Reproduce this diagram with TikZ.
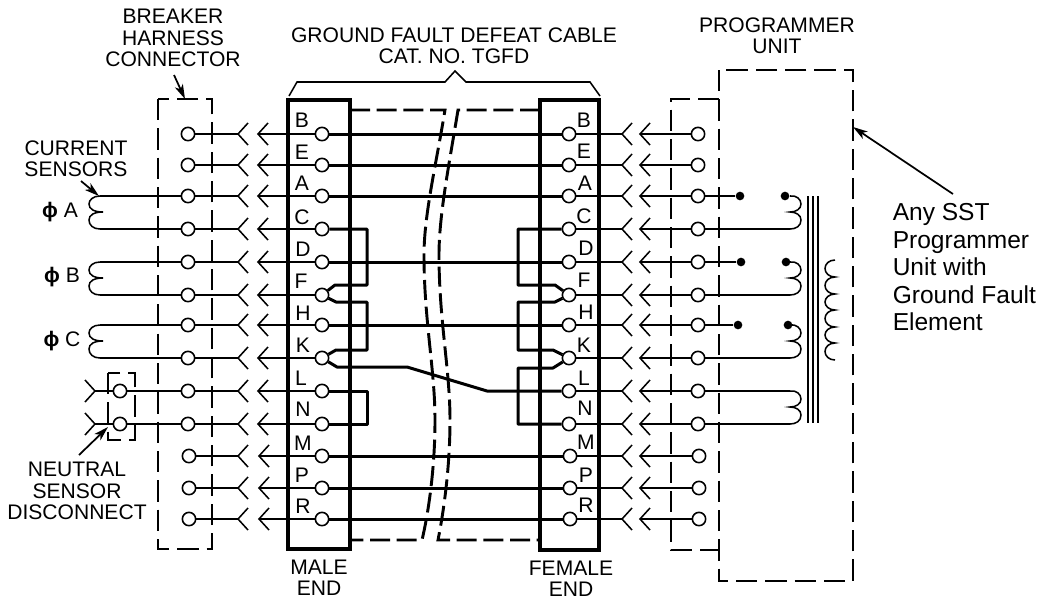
\documentclass[tikz,border=0pt]{standalone}
\usepackage{fontspec}
\setmainfont{Liberation Sans}
\usetikzlibrary{arrows.meta}

\tikzset{every picture/.style={line width=1.15pt}}
\tikzset{term/.style={circle,draw,fill=white,inner sep=0pt,minimum size=10pt,line width=1.2pt}}
\tikzset{jack/.style={circle,fill=black,inner sep=0pt,minimum size=6.5pt}}
\tikzset{wire/.style={line width=2.25pt,line join=round}}
\tikzset{shell/.style={line width=2.7pt}}
\tikzset{cabledash/.style={line width=2.2pt,dash pattern=on 15pt off 5pt}}
\tikzset{boxdash/.style={line width=1.2pt,dash pattern=on 16pt off 6pt}}
\tikzset{txt/.style={font=\fontsize{15.8}{16}\selectfont,align=center,inner sep=0pt}}
\tikzset{bigtxt/.style={font=\fontsize{18.4}{20.6}\selectfont,align=left,inner sep=0pt}}
\tikzset{pointer/.style={-{Stealth[length=11pt,width=6.5pt,inset=3pt]},line width=1.3pt}}
\tikzset{chev/.pic={\draw (10,-11) -- (0,0) -- (10,11);}}
\tikzset{chevr/.pic={\draw (-10,-11) -- (0,0) -- (-10,11);}}
\tikzset{coilr/.pic={\draw [yscale=-1] (0,0) .. controls (6,-1) and (11,3) .. (11,8) .. controls (11,13) and (6,16) .. (0,16) .. controls (6,16) and (11,19) .. (11,24) .. controls (11,30) and (6,33) .. (0,33);}}
\tikzset{coill/.pic={\draw [yscale=-1] (0,0) .. controls (-7,0) and (-11,4) .. (-11,8) .. controls (-11,13) and (-6,16) .. (3,16) .. controls (-6,16) and (-11,19) .. (-11,24) .. controls (-11,29) and (-7,33) .. (0,33);}}

\begin{document}
\begin{tikzpicture}[x=0.75pt,y=0.75pt,yscale=-1,xscale=1]
	\useasboundingbox (0,0) rectangle (1049,601);

	%Shape: Dashed Cable
	\draw [cabledash] (350,110) -- (445,110) .. controls (436,165) and (424,215) .. (424,255) .. controls (424,320) and (435,370) .. (435,420) .. controls (435,470) and (428,515) .. (422,540) -- (350,540);
	\draw [cabledash] (540,110) -- (458,110) .. controls (449,165) and (439,215) .. (439,255) .. controls (439,320) and (450,370) .. (450,420) .. controls (450,470) and (443,515) .. (438,540) -- (540,540);
	%Shape: Brace
	\draw (289,96) -- (297,82) -- (445,82) -- (455,71) -- (466,82) -- (590,82) -- (600,96);
	%Shape: Connector Shells
	\draw [shell] (288,100) rectangle (350,549);
	\draw [shell] (540,100) rectangle (599,550);
	%Shape: Harness Boxes
	\draw [boxdash] (158,99) rectangle (212,549);
	\draw [boxdash] (719,99) -- (671,99) -- (671,550) -- (719,550);
	\draw [boxdash] (719,70) rectangle (853,581);
	\draw [boxdash] (108,373) rectangle (135,440);

	%Row B
	\node [term] (hB) at (188,134) {}; \node [term] (mB) at (322,134) {}; \node [term] (fB) at (569,134) {}; \node [term] (pB) at (698,134) {};
	\coordinate (cB) at (238,134); \coordinate (aB) at (258,134); \coordinate (eB) at (622,134); \coordinate (gB) at (640,134);
	\draw (hB) -- (cB) pic {chev}; \draw (mB) -- (aB) pic {chev}; \draw (fB) -- (eB) pic {chev}; \draw (pB) -- (gB) pic {chev};
	\draw [wire] (mB) -- (fB);
	%Row E
	\node [term] (hE) at (188,165) {}; \node [term] (mE) at (322,165) {}; \node [term] (fE) at (569,165) {}; \node [term] (pE) at (698,165) {};
	\coordinate (cE) at (238,165); \coordinate (aE) at (258,165); \coordinate (eE) at (622,165); \coordinate (gE) at (640,165);
	\draw (hE) -- (cE) pic {chev}; \draw (mE) -- (aE) pic {chev}; \draw (fE) -- (eE) pic {chev}; \draw (pE) -- (gE) pic {chev};
	\draw [wire] (mE) -- (fE);
	%Row A
	\node [term] (hA) at (188,196) {}; \node [term] (mA) at (322,196) {}; \node [term] (fA) at (569,196) {}; \node [term] (pA) at (698,196) {};
	\coordinate (cA) at (238,196); \coordinate (aA) at (258,196); \coordinate (eA) at (622,196); \coordinate (gA) at (640,196);
	\draw (hA) -- (cA) pic {chev}; \draw (mA) -- (aA) pic {chev}; \draw (fA) -- (eA) pic {chev}; \draw (pA) -- (gA) pic {chev};
	\draw [wire] (mA) -- (fA);
	%Row C
	\node [term] (hC) at (188,229) {}; \node [term] (mC) at (322,229) {}; \node [term] (fC) at (569,229) {}; \node [term] (pC) at (698,229) {};
	\coordinate (cC) at (238,229); \coordinate (aC) at (258,229); \coordinate (eC) at (622,229); \coordinate (gC) at (640,229);
	\draw (hC) -- (cC) pic {chev}; \draw (mC) -- (aC) pic {chev}; \draw (fC) -- (eC) pic {chev}; \draw (pC) -- (gC) pic {chev};
	%Row D
	\node [term] (hD) at (188,262) {}; \node [term] (mD) at (322,262) {}; \node [term] (fD) at (569,262) {}; \node [term] (pD) at (698,262) {};
	\coordinate (cD) at (238,262); \coordinate (aD) at (258,262); \coordinate (eD) at (622,262); \coordinate (gD) at (640,262);
	\draw (hD) -- (cD) pic {chev}; \draw (mD) -- (aD) pic {chev}; \draw (fD) -- (eD) pic {chev}; \draw (pD) -- (gD) pic {chev};
	\draw [wire] (mD) -- (fD);
	%Row F
	\node [term] (hF) at (188,295) {}; \node [term] (mF) at (322,295) {}; \node [term] (fF) at (569,295) {}; \node [term] (pF) at (698,295) {};
	\coordinate (cF) at (238,295); \coordinate (aF) at (258,295); \coordinate (eF) at (622,295); \coordinate (gF) at (640,295);
	\draw (hF) -- (cF) pic {chev}; \draw (mF) -- (aF) pic {chev}; \draw (fF) -- (eF) pic {chev}; \draw (pF) -- (gF) pic {chev};
	%Row H
	\node [term] (hH) at (188,325) {}; \node [term] (mH) at (322,325) {}; \node [term] (fH) at (569,325) {}; \node [term] (pH) at (698,325) {};
	\coordinate (cH) at (238,325); \coordinate (aH) at (258,325); \coordinate (eH) at (622,325); \coordinate (gH) at (640,325);
	\draw (hH) -- (cH) pic {chev}; \draw (mH) -- (aH) pic {chev}; \draw (fH) -- (eH) pic {chev}; \draw (pH) -- (gH) pic {chev};
	\draw [wire] (mH) -- (fH);
	%Row K
	\node [term] (hK) at (188,358) {}; \node [term] (mK) at (322,358) {}; \node [term] (fK) at (569,358) {}; \node [term] (pK) at (698,358) {};
	\coordinate (cK) at (238,358); \coordinate (aK) at (258,358); \coordinate (eK) at (622,358); \coordinate (gK) at (640,358);
	\draw (hK) -- (cK) pic {chev}; \draw (mK) -- (aK) pic {chev}; \draw (fK) -- (eK) pic {chev}; \draw (pK) -- (gK) pic {chev};
	%Row L
	\node [term] (hL) at (188,391) {}; \node [term] (mL) at (322,391) {}; \node [term] (fL) at (569,391) {}; \node [term] (pL) at (698,391) {};
	\coordinate (cL) at (238,391); \coordinate (aL) at (258,391); \coordinate (eL) at (622,391); \coordinate (gL) at (640,391);
	\draw (hL) -- (cL) pic {chev}; \draw (mL) -- (aL) pic {chev}; \draw (fL) -- (eL) pic {chev}; \draw (pL) -- (gL) pic {chev};
	%Row N
	\node [term] (hN) at (188,424) {}; \node [term] (mN) at (322,424) {}; \node [term] (fN) at (569,424) {}; \node [term] (pN) at (698,424) {};
	\coordinate (cN) at (238,424); \coordinate (aN) at (258,424); \coordinate (eN) at (622,424); \coordinate (gN) at (640,424);
	\draw (hN) -- (cN) pic {chev}; \draw (mN) -- (aN) pic {chev}; \draw (fN) -- (eN) pic {chev}; \draw (pN) -- (gN) pic {chev};
	%Row M
	\node [term] (hM) at (189,456) {}; \node [term] (mM) at (322,456) {}; \node [term] (fM) at (570,456) {}; \node [term] (pM) at (699,456) {};
	\coordinate (cM) at (238,456); \coordinate (aM) at (259,456); \coordinate (eM) at (622,456); \coordinate (gM) at (640,456);
	\draw (hM) -- (cM) pic {chev}; \draw (mM) -- (aM) pic {chev}; \draw (fM) -- (eM) pic {chev}; \draw (pM) -- (gM) pic {chev};
	\draw [wire] (mM) -- (fM);
	%Row P
	\node [term] (hP) at (189,488) {}; \node [term] (mP) at (322,488) {}; \node [term] (fP) at (570,488) {}; \node [term] (pP) at (699,488) {};
	\coordinate (cP) at (238,488); \coordinate (aP) at (259,488); \coordinate (eP) at (622,488); \coordinate (gP) at (640,488);
	\draw (hP) -- (cP) pic {chev}; \draw (mP) -- (aP) pic {chev}; \draw (fP) -- (eP) pic {chev}; \draw (pP) -- (gP) pic {chev};
	\draw [wire] (mP) -- (fP);
	%Row R
	\node [term] (hR) at (189,519) {}; \node [term] (mR) at (322,519) {}; \node [term] (fR) at (570,519) {}; \node [term] (pR) at (699,519) {};
	\coordinate (cR) at (238,519); \coordinate (aR) at (259,519); \coordinate (eR) at (622,519); \coordinate (gR) at (640,519);
	\draw (hR) -- (cR) pic {chev}; \draw (mR) -- (aR) pic {chev}; \draw (fR) -- (eR) pic {chev}; \draw (pR) -- (gR) pic {chev};
	\draw [wire] (mR) -- (fR);

	%Straight Lines: male end links
	\draw [wire] (mC) -- (367,229) -- (367,285) -- (335,285) -- (mF);
	\draw [wire] (mF) -- (336,302) -- (367,302) -- (367,350) -- (336,350) -- (mK);
	\draw [wire] (mK) -- (337,367) -- (407,367) -- (487,391) -- (fL);
	\draw [wire] (mL) -- (367,391) -- (367,424) -- (mN);
	%Straight Lines: female end links
	\draw [wire] (fC) -- (518,229) -- (518,285) -- (555,285) -- (fF);
	\draw [wire] (fF) -- (555,302) -- (518,302) -- (518,350) -- (553,350) -- (fK);
	\draw [wire] (fK) -- (553,368) -- (518,368) -- (518,424) -- (fN);

	%Shape: Current Sensors
	\coordinate (sA) at (100,196); \coordinate (sB) at (100,262); \coordinate (sC) at (100,325);
	\coordinate (tA) at (100,229); \coordinate (tB) at (100,295); \coordinate (tC) at (100,358);
	\path (sA) pic {coill}; \path (sB) pic {coill}; \path (sC) pic {coill};
	\draw (sA) -- (hA); \draw (tA) -- (hC); \draw (sB) -- (hD); \draw (tB) -- (hF); \draw (sC) -- (hH); \draw (tC) -- (hK);

	%Shape: Neutral Sensor Disconnect
	\node [term] (nL) at (120,391) {};
	\node [term] (nN) at (120,424) {};
	\coordinate (xL) at (95,391); \coordinate (xN) at (95,424);
	\draw (nL) -- (xL) pic {chevr}; \draw (nN) -- (xN) pic {chevr};
	\draw (nL) -- (hL); \draw (nN) -- (hN);

	%Shape: Programmer Dots
	\node [jack] (dA) at (740,196) {}; \node [jack] (dD) at (741,262) {}; \node [jack] (dH) at (738,325) {};
	\node [jack] (kA) at (785,196) {}; \node [jack] (kD) at (786,262) {}; \node [jack] (kH) at (788,325) {};
	\draw (pA) -- (dA); \draw (pD) -- (dD); \draw (pH) -- (dH);
	%Shape: Programmer Coils
	\coordinate (bA) at (790,196); \coordinate (bD) at (790,262); \coordinate (bH) at (790,325); \coordinate (bL) at (790,391);
	\coordinate (zC) at (790,229); \coordinate (zF) at (790,295); \coordinate (zK) at (790,358); \coordinate (zN) at (790,424);
	\path (bA) pic {coilr}; \path (bD) pic {coilr}; \path (bH) pic {coilr}; \path (bL) pic {coilr};
	\draw (kA) -- (bA); \draw (kD) -- (bD); \draw (kH) -- (bH);
	\draw (pC) -- (zC); \draw (pF) -- (zF); \draw (pK) -- (zK); \draw (pL) -- (bL); \draw (pN) -- (zN);
	%Straight Lines: Core
	\draw (808,196) -- (808,423);
	\draw (813,196) -- (813,423);
	\draw (818,196) -- (818,423);
	%Shape: Secondary
	\draw (835,260) .. controls (829,260) and (825,264) .. (825,268.5) .. controls (825,273) and (829,277) .. (835,277) .. controls (829,277) and (825,281) .. (825,285.5) .. controls (825,290) and (829,294) .. (835,294) .. controls (829,294) and (825,298) .. (825,302) .. controls (825,306) and (829,310) .. (835,310) .. controls (829,310) and (825,314) .. (825,318.5) .. controls (825,323) and (829,327) .. (835,327) .. controls (829,327) and (825,331) .. (825,335) .. controls (825,339) and (829,343) .. (835,343) .. controls (829,343) and (825,347) .. (825,351.5) .. controls (825,356) and (829,360) .. (835,360);

	% Text Node
	\node [txt] (lblB) at (302,120) {B};
	\node [txt] (lblE) at (302,152) {E};
	\node [txt] (lblA) at (302,183) {A};
	\node [txt] (lblC) at (302,217) {C};
	\node [txt] (lblD) at (303,249) {D};
	\node [txt] (lblF) at (301,281) {F};
	\node [txt] (lblH) at (303,313) {H};
	\node [txt] (lblK) at (303,345) {K};
	\node [txt] (lblL) at (301,378) {L};
	\node [txt] (lblN) at (303,409) {N};
	\node [txt] (lblM) at (303,443) {M};
	\node [txt] (lblP) at (302,475) {P};
	\node [txt] (lblR) at (303,506) {R};
	% Text Node
	\node [txt] (lbfB) at (584,120) {B};
	\node [txt] (lbfE) at (584,151) {E};
	\node [txt] (lbfA) at (585,183) {A};
	\node [txt] (lbfC) at (584,216) {C};
	\node [txt] (lbfD) at (586,248) {D};
	\node [txt] (lbfF) at (584,280) {F};
	\node [txt] (lbfH) at (586,312) {H};
	\node [txt] (lbfK) at (584,345) {K};
	\node [txt] (lbfL) at (584,378) {L};
	\node [txt] (lbfN) at (585,408) {N};
	\node [txt] (lbfM) at (586,442) {M};
	\node [txt] (lbfP) at (586,475) {P};
	\node [txt] (lbfR) at (586,505) {R};
	% Text Node
	\node [txt] (harness) at (173,38) {BREAKER\\HARNESS\\CONNECTOR};
	\node [txt] (cable) at (454,46) {GROUND FAULT DEFEAT CABLE\\CAT. NO. TGFD};
	\node [txt] (unit) at (777,36) {PROGRAMMER\\UNIT};
	\node [txt] (sensors) at (76,159) {CURRENT\\SENSORS};
	\node [txt] (neutral) at (77,491) {NEUTRAL\\SENSOR\\DISCONNECT};
	\node [txt] (male) at (319,578) {MALE\\END};
	\node [txt] (female) at (571,579) {FEMALE\\END};
	\node [txt] (phiA) at (60,212) {\textbf{ϕ} A};
	\node [txt] (phiB) at (62,277) {\textbf{ϕ} B};
	\node [txt] (phiC) at (62,341) {\textbf{ϕ} C};
	\node [bigtxt,anchor=north west] (anysst) at (892,203) {Any SST\\Programmer\\Unit with\\Ground Fault\\Element};

	%Straight Lines: Pointers
	\coordinate (pt1) at (174,75); \coordinate (pt1e) at (185,99);
	\coordinate (pt2) at (81,181); \coordinate (pt2e) at (99,196);
	\coordinate (pt3) at (79,455); \coordinate (pt3e) at (108,427);
	\coordinate (pt4) at (953,194); \coordinate (pt4e) at (853,127);
	\draw [pointer] (pt1) -- (pt1e);
	\draw [pointer] (pt2) -- (pt2e);
	\draw [pointer] (pt3) -- (pt3e);
	\draw [pointer] (pt4) -- (pt4e);
\end{tikzpicture}
\end{document}
